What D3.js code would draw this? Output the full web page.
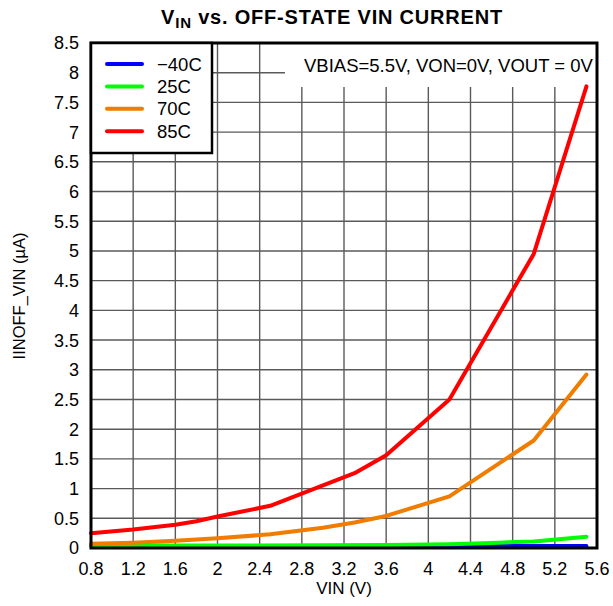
<!DOCTYPE html>
<html><head><meta charset="utf-8">
<script src="https://cdn.jsdelivr.net/npm/d3@7"></script>
<style>
html,body{margin:0;padding:0;background:#fff;}
text{font-family:"Liberation Sans",Arial,sans-serif;fill:#000;}
</style></head>
<body>
<svg id="c" width="613" height="606"></svg>
<script>
// ---- data ----
const xTicks = [0.8,1.2,1.6,2,2.4,2.8,3.2,3.6,4,4.4,4.8,5.2,5.6];
const yTicks = [0,0.5,1,1.5,2,2.5,3,3.5,4,4.5,5,5.5,6,6.5,7,7.5,8,8.5];

const vinM40 = [0.8, 2.0, 3.0, 4.0, 5.0, 5.5];
const iM40   = [0.035, 0.035, 0.035, 0.035, 0.035, 0.035];

const vin25 = [0.8, 2.0, 3.0, 3.6, 4.2, 4.6, 5.0, 5.5];
const i25   = [0.04, 0.04, 0.045, 0.05, 0.065, 0.085, 0.11, 0.19];

const vin70 = [0.8, 1.2, 1.6, 2.0, 2.5, 3.0, 3.3, 3.6, 4.2, 5.0, 5.5];
const i70   = [0.07, 0.09, 0.12, 0.165, 0.23, 0.34, 0.43, 0.54, 0.87, 1.81, 2.92];

const vin85 = [0.8, 1.2, 1.6, 1.8, 2.0, 2.5, 3.3, 3.6, 4.2, 5.0, 5.5];
const i85   = [0.25, 0.31, 0.39, 0.45, 0.53, 0.71, 1.26, 1.56, 2.5, 4.95, 7.77];

const seriesNames  = ["\u221240C", "25C", "70C", "85C"];
const seriesColors = ["#0000ff", "#00ff00", "#f07c00", "#ff0000"];

// ---- layout ----
const L = 91, R = 597, T = 43, B = 548;
const svg = d3.select("#c");
const x = d3.scaleLinear().domain([0.8, 5.6]).range([L, R]);
const y = d3.scaleLinear().domain([0, 8.5]).range([B, T]);

// grid
const grid = svg.append("g");
grid.selectAll("line.v").data(xTicks.slice(1, -1)).enter().append("line")
  .attr("x1", d => x(d)).attr("x2", d => x(d)).attr("y1", T).attr("y2", B)
  .attr("stroke", "#5a5a5a").attr("stroke-width", 1.4);
grid.selectAll("line.h").data(yTicks.slice(1, -1)).enter().append("line")
  .attr("x1", L).attr("x2", R).attr("y1", d => y(d)).attr("y2", d => y(d))
  .attr("stroke", "#5a5a5a").attr("stroke-width", 1.4);

// annotation white box
svg.append("rect").attr("x", 285).attr("y", T).attr("width", R - 285).attr("height", 44).attr("fill", "#fff");
svg.append("text").attr("x", 304).attr("y", 72).attr("font-size", 18.5)
  .text("VBIAS=5.5V, VON=0V, VOUT = 0V");

// series
const series = [
  {xs: vinM40, ys: iM40},
  {xs: vin25, ys: i25},
  {xs: vin70, ys: i70},
  {xs: vin85, ys: i85}
];
const line = d3.line().x(d => x(d[0])).y(d => y(d[1]));
series.forEach((s, k) => {
  svg.append("path").datum(s.xs.map((v, i) => [v, s.ys[i]]))
    .attr("d", line).attr("fill", "none")
    .attr("stroke", seriesColors[k]).attr("stroke-width", 4)
    .attr("stroke-linejoin", "round").attr("stroke-linecap", "round");
});

// border
svg.append("rect").attr("x", L).attr("y", T).attr("width", R - L).attr("height", B - T)
  .attr("fill", "none").attr("stroke", "#000").attr("stroke-width", 3);

// legend
const lg = svg.append("g");
lg.append("rect").attr("x", L).attr("y", T).attr("width", 121).attr("height", 110)
  .attr("fill", "#fff").attr("stroke", "#000").attr("stroke-width", 2.5);
seriesNames.forEach((n, k) => {
  const yy = 64 + k * 22.4;
  lg.append("line").attr("x1", 107).attr("x2", 142).attr("y1", yy).attr("y2", yy)
    .attr("stroke", seriesColors[k]).attr("stroke-width", 4).attr("stroke-linecap", "round");
  lg.append("text").attr("x", 157).attr("y", yy).attr("dy", "0.36em").attr("font-size", 18.5).text(n);
});

// axes labels
svg.append("g").selectAll("text").data(xTicks).enter().append("text")
  .attr("x", d => x(d)).attr("y", 575).attr("text-anchor", "middle").attr("font-size", 18)
  .text(d => d3.format("")(d));
svg.append("g").selectAll("text").data(yTicks).enter().append("text")
  .attr("x", 79).attr("y", d => y(d)).attr("dy", "0.36em").attr("text-anchor", "end").attr("font-size", 18)
  .text(d => d3.format("")(d));

svg.append("text").attr("x", 344).attr("y", 594).attr("text-anchor", "middle").attr("font-size", 17)
  .text("VIN (V)");
svg.append("text").attr("transform", "translate(25,296) rotate(-90)").attr("text-anchor", "middle")
  .attr("font-size", 16.5).text("IINOFF_VIN (\u00b5A)");

// title
const t = svg.append("text").attr("x", 332).attr("y", 24).attr("text-anchor", "middle")
  .attr("font-size", 20).attr("font-weight", "bold").attr("letter-spacing", 0.8);
t.append("tspan").text("V");
t.append("tspan").attr("font-size", 15).attr("dy", 4).text("IN");
t.append("tspan").attr("dy", -4).text(" vs. OFF-STATE VIN CURRENT");
</script>
</body></html>
